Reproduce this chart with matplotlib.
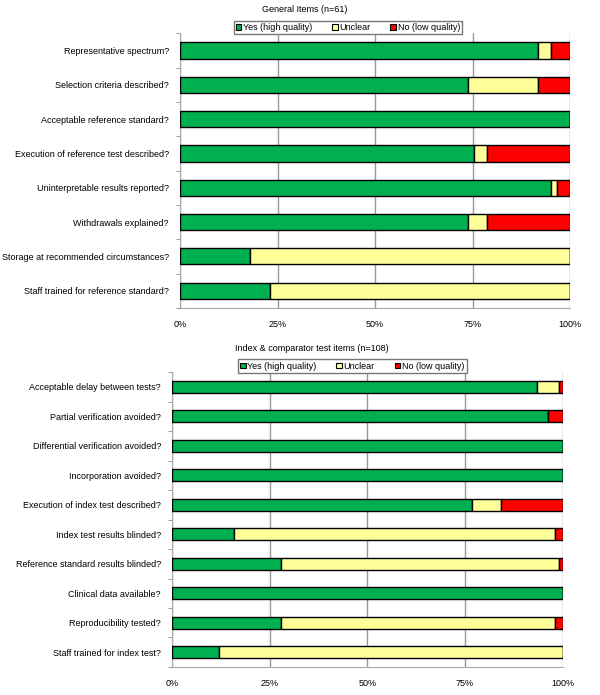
import numpy as np
import matplotlib.pyplot as plt
from matplotlib.patches import Patch

plt.rcParams['font.family'] = ['Liberation Sans', 'DejaVu Sans']

# General items (n=61), counts per study
gen_items = ["Representative spectrum?", "Selection criteria described?",
             "Acceptable reference standard?", "Execution of reference test described?",
             "Uninterpretable results reported?", "Withdrawals explained?",
             "Storage at recommended circumstances?", "Staff trained for reference standard?"]
gen_yes = [56, 45, 61, 46, 58, 45, 11, 14]
gen_unclear = [2, 11, 0, 2, 1, 3, 50, 47]
gen_no = [3, 5, 0, 13, 2, 13, 0, 0]

# Index & comparator test items (n=108)
idx_items = ["Acceptable delay between tests?", "Partial verification avoided?",
             "Differential verification avoided?", "Incorporation avoided?",
             "Execution of index test described?", "Index test results blinded?",
             "Reference standard results blinded?", "Clinical data available?",
             "Reproducibility tested?", "Staff trained for index test?"]
idx_yes = [101, 104, 108, 108, 83, 17, 30, 108, 30, 13]
idx_unclear = [6, 0, 0, 0, 8, 89, 77, 0, 76, 95]
idx_no = [1, 4, 0, 0, 17, 2, 1, 0, 2, 0]

tick_labels = ["0%", "25%", "50%", "75%", "100%"]
colors = ["#00B050", "#FFFF99", "#FF0000"]
names = ["Yes (high quality)", "Unclear", "No (low quality)"]

fig = plt.figure(figsize=(6, 6.95), dpi=100)
FS = 6.5


def draw(rect, items, yes, unclear, no, title, title_x, leg_x, bh):
    ax = fig.add_axes(rect)
    yes = np.array(yes, float)
    unclear = np.array(unclear, float)
    no = np.array(no, float)
    tot = yes + unclear + no
    parts = [yes / tot * 100, unclear / tot * 100, no / tot * 100]
    y = np.arange(len(items))
    left = np.zeros(len(items))
    for p, c in zip(parts, colors):
        ax.barh(y, p, left=left, height=bh, color=c, edgecolor="black",
                linewidth=1.0, zorder=3)
        left += p
    ax.set_xlim(0, 100)
    ax.set_ylim(len(items) - 0.5, -0.5)
    ax.set_xticks([0, 25, 50, 75, 100])
    ax.set_xticklabels(tick_labels, fontsize=FS)
    ax.tick_params(axis="x", length=0, pad=9)
    ax.set_yticks(y)
    ax.set_yticklabels(items, fontsize=FS)
    ax.tick_params(axis="y", which="major", length=0, pad=8)
    ax.set_yticks(np.arange(len(items) + 1) - 0.5, minor=True)
    ax.tick_params(axis="y", which="minor", length=3, color="#888888")
    ax.grid(axis="x", color="#999999", linewidth=1.0, zorder=0)
    for s in ["top", "right"]:
        ax.spines[s].set_visible(False)
    for s in ["left", "bottom"]:
        ax.spines[s].set_color("#aaaaaa")
    fig.text(title_x, rect[1] + rect[3] + 0.034, title, fontsize=FS,
             ha="center", va="center")
    handles = [Patch(facecolor=c, edgecolor="black", linewidth=0.8) for c in colors]
    fig.legend(handles, names, loc="center", ncol=3,
               bbox_to_anchor=(leg_x, rect[1] + rect[3] + 0.0085),
               fontsize=FS, frameon=True, fancybox=False, edgecolor="#777777",
               handlelength=0.6, handleheight=0.6, handletextpad=0.2,
               columnspacing=2.2, borderpad=0.25, framealpha=1)
    return ax


draw([0.30, 0.557, 0.65, 0.395], gen_items, gen_yes, gen_unclear, gen_no,
     "General Items (n=61)", 0.508, 0.58, 0.47)
draw([0.2867, 0.0403, 0.651, 0.4244], idx_items, idx_yes, idx_unclear, idx_no,
     "Index & comparator test items (n=108)", 0.52, 0.587, 0.42)

fig.savefig("out.png", dpi=100)
